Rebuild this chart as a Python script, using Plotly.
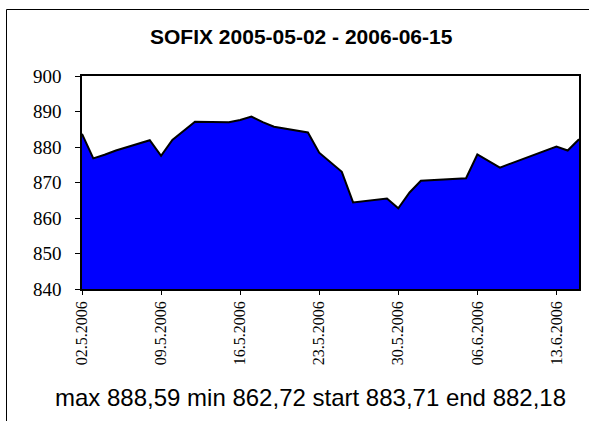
import plotly.graph_objects as go

dates = ["2006-05-02", "2006-05-03", "2006-05-04", "2006-05-05", "2006-05-08",
         "2006-05-09", "2006-05-10", "2006-05-11", "2006-05-12", "2006-05-15",
         "2006-05-16", "2006-05-17", "2006-05-18", "2006-05-19", "2006-05-22",
         "2006-05-23", "2006-05-24", "2006-05-25", "2006-05-26", "2006-05-29",
         "2006-05-30", "2006-05-31", "2006-06-01", "2006-06-02", "2006-06-05",
         "2006-06-06", "2006-06-07", "2006-06-08", "2006-06-09", "2006-06-12",
         "2006-06-13", "2006-06-14", "2006-06-15"]
values = [883.71, 876.8, 877.8, 879.0, 881.9,
          877.5, 882.0, 884.5, 887.1, 887.0,
          887.6, 888.59, 887.0, 885.7, 884.1,
          878.4, 875.7, 873.0, 864.4, 865.5,
          862.72, 867.2, 870.5, 870.7, 871.2,
          877.9, 876.0, 874.2, 875.4, 878.9,
          880.1, 879.0, 882.18]
tick_dates = ["2006-05-02", "2006-05-09", "2006-05-16", "2006-05-23",
              "2006-05-30", "2006-06-06", "2006-06-13"]
tick_labels = ["02.5.2006", "09.5.2006", "16.5.2006", "23.5.2006",
               "30.5.2006", "06.6.2006", "13.6.2006"]
y_ticks = [840, 850, 860, 870, 880, 890, 900]
title_text = "SOFIX 2005-05-02 - 2006-06-15"
footer_text = "max 888,59 min 862,72 start 883,71 end 882,18"

W, H = 589, 421
L, R, T, B = 82, 10, 76, 132
PW, PH = W - L - R, H - T - B

SERIF = "Liberation Serif"
SANS = "Liberation Sans"

def px(x):
    return (x - L) / PW

def py(y):
    return (H - B - y) / PH

fig = go.Figure()
fig.add_trace(go.Scatter(
    x=dates, y=values, mode="lines", fill="tozeroy",
    fillcolor="#0000FF", line=dict(color="black", width=2),
    hoverinfo="skip", showlegend=False))

fig.update_layout(
    width=W, height=H, autosize=False,
    margin=dict(l=L, r=R, t=T, b=B, pad=0),
    paper_bgcolor="white", plot_bgcolor="white",
    font=dict(family=SERIF, color="black"),
    showlegend=False,
    annotations=[
        dict(text="<b>" + title_text + "</b>", xref="paper", yref="paper",
             x=px(301), y=py(36.5), xanchor="center", yanchor="middle",
             showarrow=False,
             font=dict(family=SANS, size=21, color="black")),
        dict(text=footer_text, xref="paper", yref="paper",
             x=px(310), y=py(397), xanchor="center", yanchor="middle",
             showarrow=False,
             font=dict(family=SANS, size=24, color="black")),
    ],
    shapes=[
        dict(type="rect", xref="paper", yref="paper",
             x0=px(6.5), y0=py(440), x1=px(610), y1=py(9.5),
             line=dict(color="black", width=1), fillcolor="rgba(0,0,0,0)",
             layer="below"),
    ],
)
fig.update_xaxes(
    type="date", range=["2006-05-02", "2006-06-15"],
    tickmode="array", tickvals=tick_dates, ticktext=tick_labels,
    tickangle=-90, ticks="outside", ticklen=4, tickcolor="black",
    showgrid=False, zeroline=False, showline=True, linecolor="black",
    linewidth=1.5, mirror=True, automargin=False,
    tickfont=dict(family=SERIF, size=16, color="black"),
)
fig.update_yaxes(
    range=[840, 900], tickmode="array", tickvals=y_ticks,
    ticks="outside", ticklen=5, tickcolor="black",
    showgrid=False, zeroline=False, showline=True, linecolor="black",
    linewidth=1.5, mirror=True, ticklabelstandoff=10, automargin=False,
    tickfont=dict(family=SERIF, size=19, color="black"),
)

fig.write_html(
    "out.html",
    config={"displayModeBar": False},
    post_script="document.body.style.margin='0';document.body.style.overflow='hidden';",
)
